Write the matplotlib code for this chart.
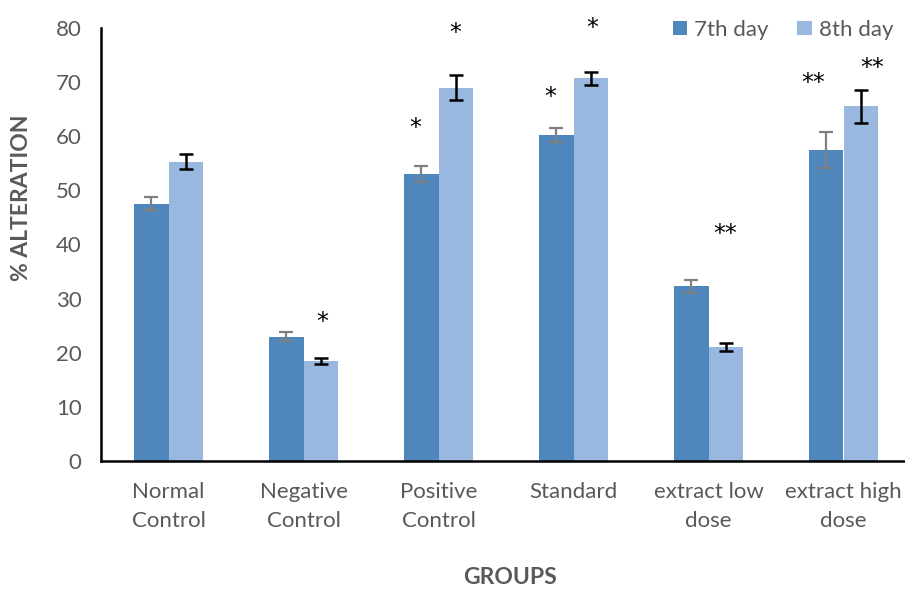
import numpy as np
import matplotlib
matplotlib.use("Agg")
import matplotlib.pyplot as plt

# groups and measured means / errors
groups = ["Normal\nControl", "Negative\nControl", "Positive\nControl",
          "Standard", "extract low\ndose", "extract high\ndose"]
day7 = [47.5, 23.0, 53.0, 60.3, 32.3, 57.4]
day8 = [55.3, 18.5, 69.0, 70.7, 21.1, 65.5]
err7 = [1.2, 0.9, 1.5, 1.3, 1.2, 3.3]
err8 = [1.4, 0.5, 2.3, 1.2, 0.7, 3.1]

# significance marks: (group, series 0=7th/1=8th, label, height, x shift)
sig_marks = [
    (1, 1, "*", 25.7, 0.01),
    (2, 0, "*", 61.5, -0.05),
    (2, 1, "*", 79.0, 0.0),
    (3, 0, "*", 67.3, -0.05),
    (3, 1, "*", 80.0, 0.01),
    (4, 1, "**", 42.0, 0.0),
    (5, 0, "**", 69.9, -0.10),
    (5, 1, "**", 72.6, 0.09),
]

plt.rcParams["font.family"] = ["Lato", "DejaVu Sans"]
grey = "#595959"
c7 = "#4F87BC"
c8 = "#98B8DF"

fig = plt.figure(figsize=(9.05, 5.89), dpi=100)
ax = fig.add_axes([101 / 905, 1 - 461 / 589, 1 - 101 / 905, (461 - 28) / 589])

x = np.arange(len(groups))
w = 0.252
ax.bar(x - w / 2, day7, w, color=c7, label="7th day", zorder=2)
ax.bar(x + w / 2, day8, w, color=c8, label="8th day", zorder=2)
ax.errorbar(x - w / 2, day7, yerr=err7, fmt="none", ecolor="#808080",
            elinewidth=1.6, capsize=4.7, capthick=1.6, zorder=3)
ax.errorbar(x + w / 2, day8, yerr=err8, fmt="none", ecolor="black",
            elinewidth=1.8, capsize=4.7, capthick=1.8, zorder=3)

for g, s, lab, h, dx in sig_marks:
    xp = x[g] + (w / 2 if s else -w / 2) + dx
    ax.text(xp, h, lab, ha="center", va="center", fontsize=17, color="black",
            family="DejaVu Sans")

ax.set_xlim(-0.5, (905 - 101) / 135 - 0.5)
ax.set_ylim(0, 80)
ax.set_yticks(range(0, 81, 10))
ax.set_xticks(x)
ax.set_xticklabels(groups, linespacing=1.55)
ax.tick_params(axis="both", length=0, labelsize=16, colors=grey)
ax.tick_params(axis="y", pad=14)
ax.tick_params(axis="x", pad=15)

for side in ["top", "right"]:
    ax.spines[side].set_visible(False)
for side in ["left", "bottom"]:
    ax.spines[side].set_linewidth(1.8)
    ax.spines[side].set_color("black")

fig.text(22 / 905, 1 - 198 / 589, "% ALTERATION", rotation=90, ha="center",
         va="center", fontsize=16.5, fontweight="bold", color=grey)
fig.text(510 / 905, 1 - 578 / 589, "GROUPS", ha="center", va="center",
         fontsize=16.5, fontweight="bold", color=grey)

leg = ax.legend(loc="upper right", bbox_to_anchor=(1.01, 1.065), ncol=2,
                frameon=False, fontsize=16, handlelength=0.65,
                handleheight=0.65, handletextpad=0.3, columnspacing=1.3)
for t in leg.get_texts():
    t.set_color(grey)

fig.savefig("out.png", dpi=100)
